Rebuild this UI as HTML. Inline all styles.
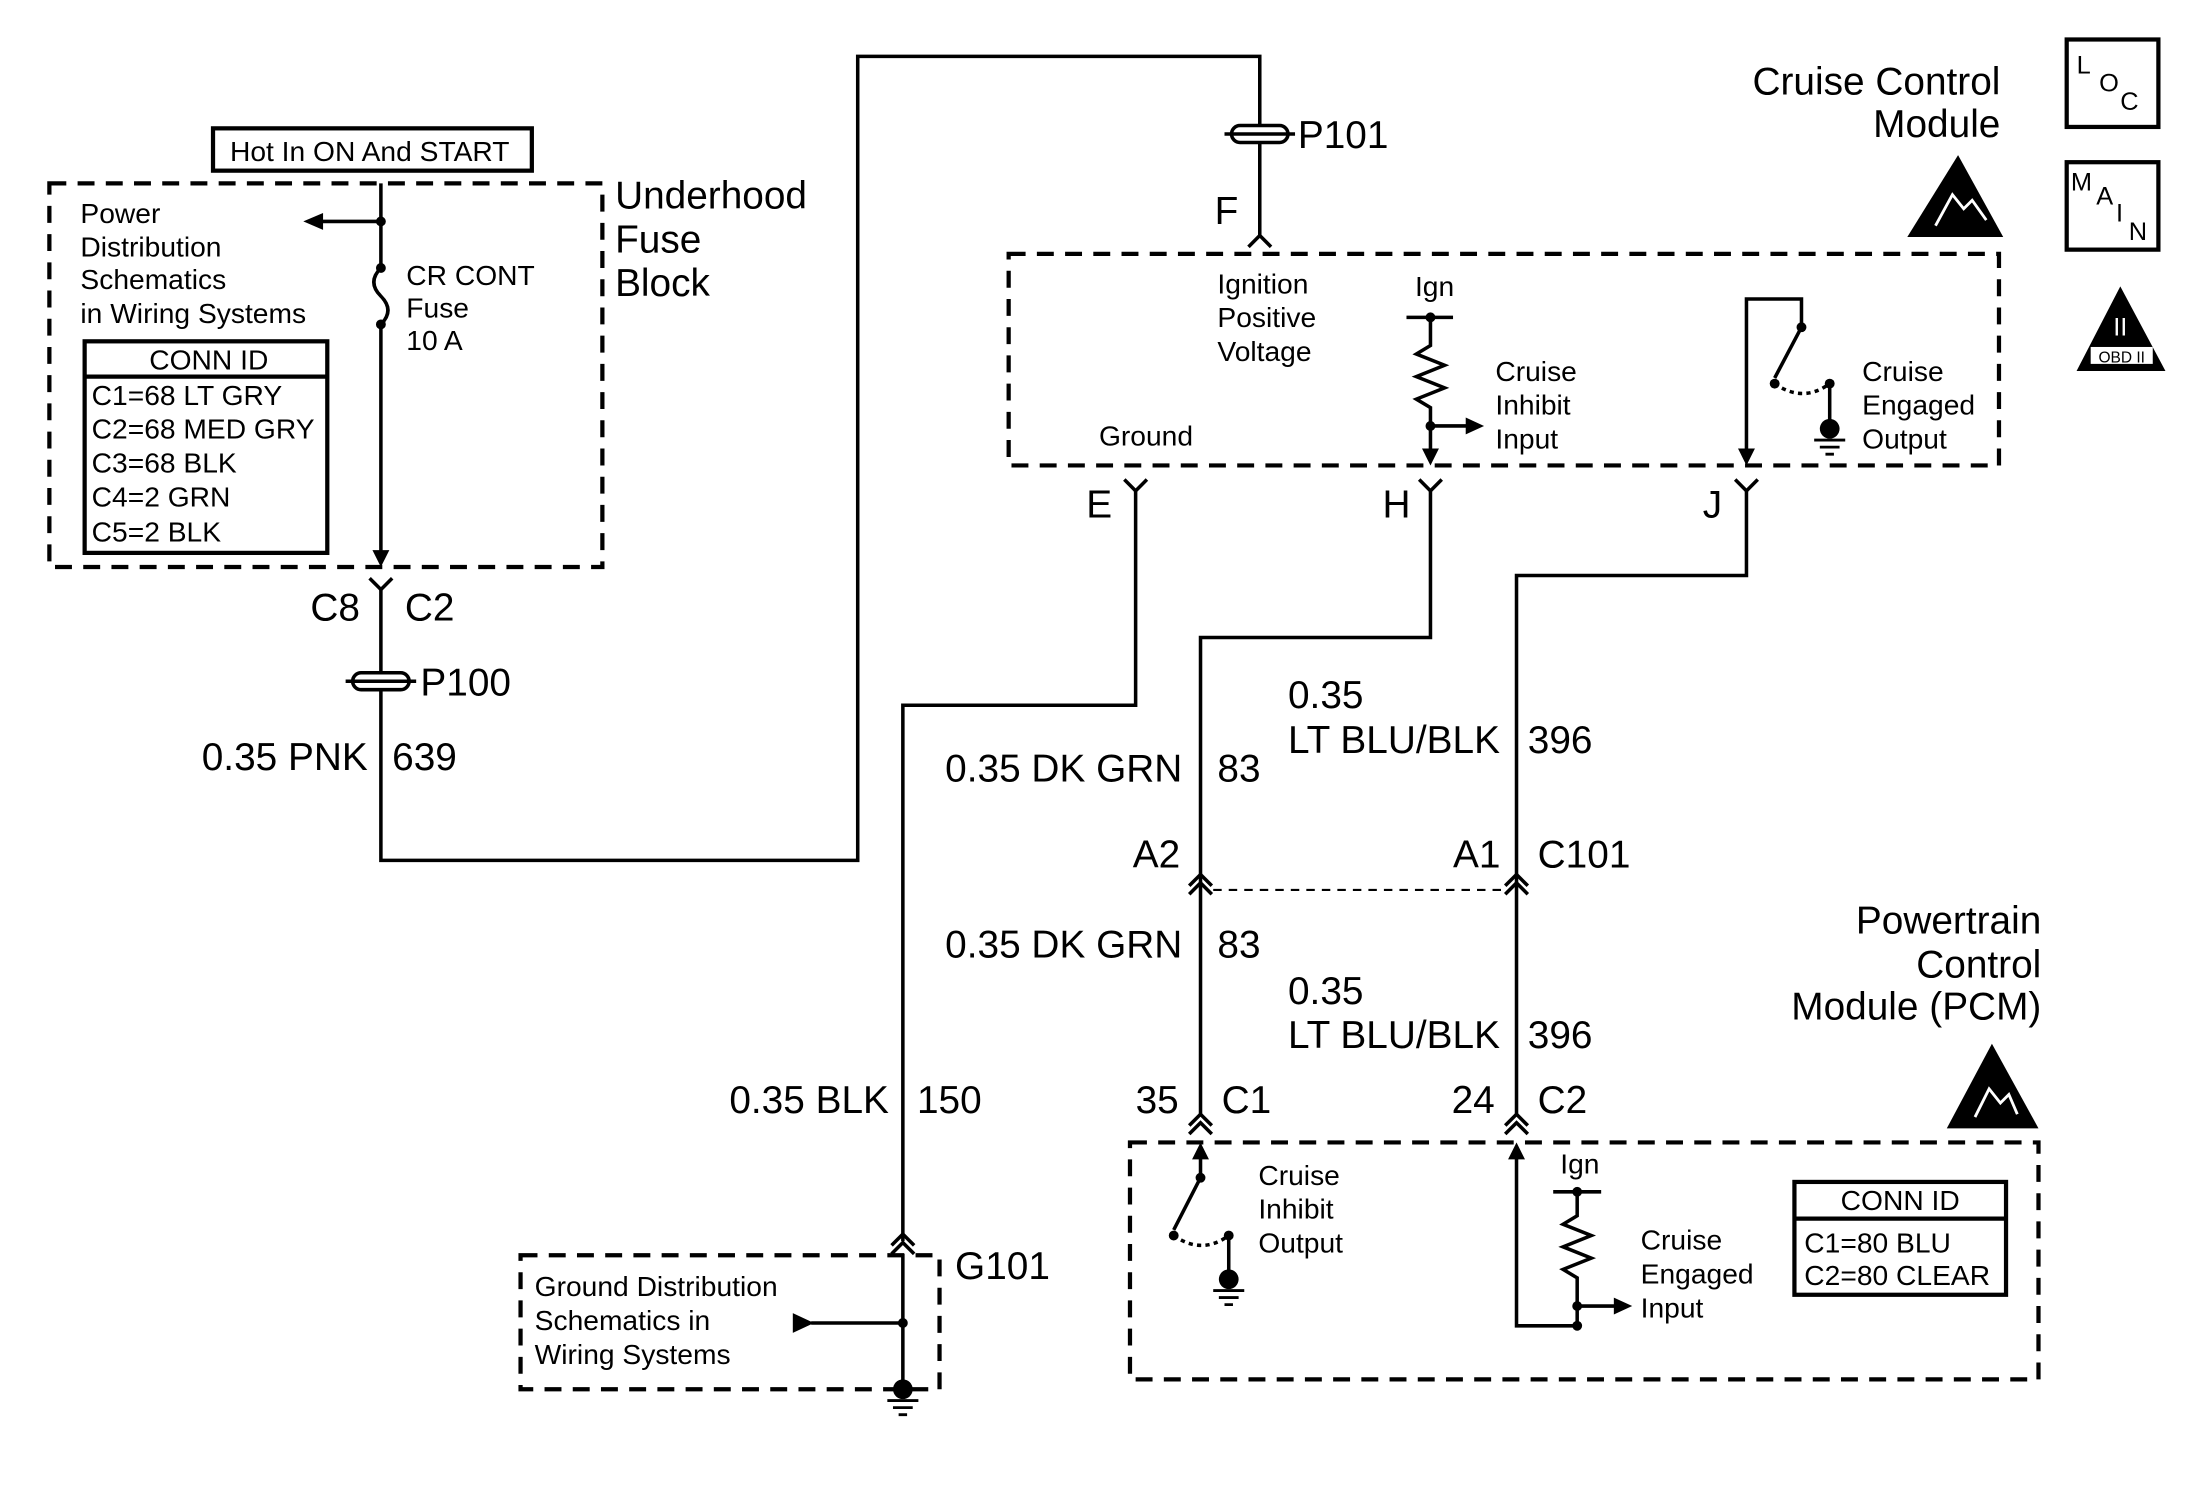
<!DOCTYPE html>
<html><head><meta charset="utf-8"><style>
html,body{margin:0;padding:0;background:#fff}
svg{display:block}
text{font-family:"Liberation Sans",Arial,sans-serif;fill:#000}
.s{font-size:20px}.l{font-size:27.5px}
</style></head><body>
<svg width="2212" height="1488" viewBox="0 0 1568 1055" preserveAspectRatio="none">
<g fill="none" stroke="#000" stroke-width="3">
<rect x="151" y="91" width="226" height="30"/>
<rect x="35" y="130" width="392" height="272" stroke-dasharray="12,8"/>
<rect x="715" y="180" width="702" height="150" stroke-dasharray="12,8"/>
<rect x="801" y="810" width="644" height="168" stroke-dasharray="12,8"/>
<rect x="369" y="890" width="297" height="95" stroke-dasharray="12,8"/>
<rect x="60" y="242" width="172" height="150"/><line x1="60" y1="267" x2="232" y2="267"/>
<rect x="1272" y="838" width="150" height="80"/><line x1="1272" y1="864" x2="1422" y2="864"/>
<rect x="1465" y="28" width="65" height="62"/>
<rect x="1465" y="115" width="65" height="62"/>
</g>
<g fill="none" stroke="#000" stroke-width="2.5">
<line x1="270" y1="130" x2="270" y2="190"/>
<path d="M270 190 q-10 10 0 20 q10 10 0 20"/>
<line x1="270" y1="230" x2="270" y2="396"/>
<line x1="228" y1="157" x2="270" y2="157"/>
<path d="M262 410 L270 418 L278 410"/>
<path d="M270 418 V610 H608 V40 H893 V167"/>
<path d="M885 175 L893 167 L901 175"/>
<line x1="997" y1="225" x2="1030" y2="225"/>
<path d="M1014 225 V245 l-10 6 l20 8 l-20 8 l20 8 l-20 8 l10 6 V322"/>
<line x1="1014" y1="302" x2="1040" y2="302"/>
<path d="M1238 322 V212 H1277 V232 L1258 268"/>
<path d="M1258 272 q20 14 39 0" stroke-dasharray="3,3"/>
<line x1="1297" y1="272" x2="1297" y2="302"/>
<path d="M797 340 L805 348 L813 340"/><path d="M1006 340 L1014 348 L1022 340"/><path d="M1230 340 L1238 348 L1246 340"/>
<path d="M805 348 V500 H640 V880"/>
<path d="M1014 348 V452 H851 V790"/>
<path d="M1238 348 V408 H1075 V790"/>
<path d="M843 628 L851 620 L859 628 M843 634 L851 626 L859 634"/>
<path d="M1067 628 L1075 620 L1083 628 M1067 634 L1075 626 L1083 634"/>
<line x1="860" y1="631" x2="1066" y2="631" stroke-dasharray="6,5" stroke-width="1.5"/>
<path d="M843 798 L851 790 L859 798 M843 804 L851 796 L859 804"/>
<path d="M1067 798 L1075 790 L1083 798 M1067 804 L1075 796 L1083 804"/>
<path d="M632 883 L640 875 L648 883 M632 889 L640 881 L648 889"/>
<path d="M851 818 V835 L832 872"/>
<path d="M832 876 q20 14 39 0" stroke-dasharray="3,3"/>
<line x1="871" y1="876" x2="871" y2="905"/>
<path d="M1075 818 V940 H1118"/>
<line x1="1101" y1="845" x2="1135" y2="845"/>
<path d="M1118 845 V862 l-10 6 l20 8 l-20 8 l20 8 l-20 8 l10 6 V940"/>
<line x1="1118" y1="926" x2="1145" y2="926"/>
<line x1="640" y1="889" x2="640" y2="985"/>
<line x1="575" y1="938" x2="640" y2="938"/>
</g>
<g fill="#000">
<circle cx="270" cy="157" r="3.5"/><circle cx="270" cy="190" r="3.5"/><circle cx="270" cy="230" r="3.5"/>
<polygon points="215,157 229,151 229,163"/>
<polygon points="270,402 264,390 276,390"/>
<circle cx="1014" cy="225" r="3.5"/><circle cx="1014" cy="302" r="3.5"/>
<polygon points="1052,302 1039,296 1039,308"/>
<polygon points="1014,330 1008,318 1020,318"/>
<polygon points="1238,330 1232,318 1244,318"/>
<circle cx="1277" cy="232" r="3.5"/><circle cx="1258" cy="272" r="3.5"/><circle cx="1297" cy="272" r="3.5"/>
<circle cx="1297" cy="304" r="7"/>
<polygon points="851,810 845,822 857,822"/><circle cx="851" cy="835" r="3.5"/><circle cx="832" cy="876" r="3.5"/><circle cx="871" cy="876" r="3.5"/>
<circle cx="871" cy="907" r="7"/>
<polygon points="1075,810 1069,822 1081,822"/>
<circle cx="1118" cy="845" r="3.5"/><circle cx="1118" cy="926" r="3.5"/><circle cx="1118" cy="940" r="3.5"/>
<polygon points="1157,926 1144,920 1144,932"/>
<polygon points="577,938 562,931 562,945"/>
<circle cx="640" cy="938" r="3.5"/><circle cx="640" cy="985" r="7"/>
<polygon points="1352,168 1420,168 1388,110"/>
<polygon points="1380,800 1445,800 1412,740"/>
<polygon points="1472,263 1535,263 1503,203"/>
</g>
<g stroke="#fff" stroke-width="2" fill="none">
<path d="M1372 160 l12 -22 l8 10 l6 -6 l10 14"/><path d="M1400 792 l10 -20 l8 10 l6 -6 l6 14"/>
</g>
<g stroke="#000" stroke-width="2">
<path d="M1286 312 h22 M1290 317 h14 M1294 322 h6"/>
<path d="M860 915 h22 M864 920 h14 M868 925 h6"/>
<path d="M629 993 h22 M633 998 h14 M637 1003 h6"/>
</g>
<g stroke="#000" stroke-width="2.5" fill="#fff">
<rect x="873" y="89" width="40" height="12" rx="6"/><line x1="868" y1="95" x2="918" y2="95"/>
<rect x="250" y="477" width="40" height="12" rx="6"/><line x1="245" y1="483" x2="295" y2="483"/>
</g>
<text x="1503" y="238" font-size="18" text-anchor="middle" style="fill:#fff">II</text>
<rect x="1482" y="246" width="44" height="12" fill="#fff"/>
<text x="1504" y="257" font-size="11" text-anchor="middle">OBD II</text>
<text x="1472" y="52" font-size="18">L</text><text x="1488" y="65" font-size="18">O</text><text x="1503" y="78" font-size="18">C</text>
<text x="1468" y="135" font-size="18">M</text><text x="1486" y="145" font-size="18">A</text><text x="1500" y="157" font-size="18">I</text><text x="1509" y="170" font-size="18">N</text>

<text class="s" x="163" y="114">Hot In ON And START</text>
<text class="l" x="436" y="148">Underhood</text><text class="l" x="436" y="179">Fuse</text><text class="l" x="436" y="210">Block</text>
<text class="s" x="57" y="158">Power</text><text class="s" x="57" y="182">Distribution</text><text class="s" x="57" y="205">Schematics</text><text class="s" x="57" y="229">in Wiring Systems</text>
<text class="s" x="288" y="202">CR CONT</text><text class="s" x="288" y="225">Fuse</text><text class="s" x="288" y="248">10 A</text>
<text class="s" x="148" y="262" text-anchor="middle">CONN ID</text>
<text class="s" x="65" y="287">C1=68 LT GRY</text><text class="s" x="65" y="311">C2=68 MED GRY</text><text class="s" x="65" y="335">C3=68 BLK</text><text class="s" x="65" y="359">C4=2 GRN</text><text class="s" x="65" y="384">C5=2 BLK</text>
<text class="l" x="220" y="440">C8</text><text class="l" x="287" y="440">C2</text>
<text class="l" x="298" y="493">P100</text>
<text class="l" x="143" y="546">0.35 PNK</text><text class="l" x="278" y="546">639</text>
<text class="l" x="920" y="105">P101</text>
<text class="l" x="861" y="159">F</text>
<text class="l" x="1418" y="67" text-anchor="end">Cruise Control</text><text class="l" x="1418" y="97" text-anchor="end">Module</text>
<text class="s" x="863" y="208">Ignition</text><text class="s" x="863" y="232">Positive</text><text class="s" x="863" y="256">Voltage</text>
<text class="s" x="1003" y="210">Ign</text>
<text class="s" x="1060" y="270">Cruise</text><text class="s" x="1060" y="294">Inhibit</text><text class="s" x="1060" y="318">Input</text>
<text class="s" x="779" y="316">Ground</text>
<text class="s" x="1320" y="270">Cruise</text><text class="s" x="1320" y="294">Engaged</text><text class="s" x="1320" y="318">Output</text>
<text class="l" x="770" y="367">E</text><text class="l" x="980" y="367">H</text><text class="l" x="1207" y="367">J</text>
<text class="l" x="913" y="502">0.35</text><text class="l" x="913" y="534">LT BLU/BLK</text><text class="l" x="1083" y="534">396</text>
<text class="l" x="670" y="554">0.35 DK GRN</text><text class="l" x="863" y="554">83</text>
<text class="l" x="803" y="615">A2</text><text class="l" x="1030" y="615">A1</text><text class="l" x="1090" y="615">C101</text>
<text class="l" x="670" y="679">0.35 DK GRN</text><text class="l" x="863" y="679">83</text>
<text class="l" x="913" y="712">0.35</text><text class="l" x="913" y="743">LT BLU/BLK</text><text class="l" x="1083" y="743">396</text>
<text class="l" x="517" y="789">0.35 BLK</text><text class="l" x="650" y="789">150</text>
<text class="l" x="805" y="789">35</text><text class="l" x="866" y="789">C1</text><text class="l" x="1029" y="789">24</text><text class="l" x="1090" y="789">C2</text>
<text class="l" x="1447" y="662" text-anchor="end">Powertrain</text><text class="l" x="1447" y="693" text-anchor="end">Control</text><text class="l" x="1447" y="723" text-anchor="end">Module (PCM)</text>
<text class="s" x="892" y="840">Cruise</text><text class="s" x="892" y="864">Inhibit</text><text class="s" x="892" y="888">Output</text>
<text class="s" x="1106" y="832">Ign</text>
<text class="s" x="1163" y="886">Cruise</text><text class="s" x="1163" y="910">Engaged</text><text class="s" x="1163" y="934">Input</text>
<text class="s" x="1347" y="858" text-anchor="middle">CONN ID</text>
<text class="s" x="1279" y="888">C1=80 BLU</text><text class="s" x="1279" y="911">C2=80 CLEAR</text>
<text class="l" x="677" y="907">G101</text>
<text class="s" x="379" y="919">Ground Distribution</text><text class="s" x="379" y="943">Schematics in</text><text class="s" x="379" y="967">Wiring Systems</text>
</svg>
</body></html>
